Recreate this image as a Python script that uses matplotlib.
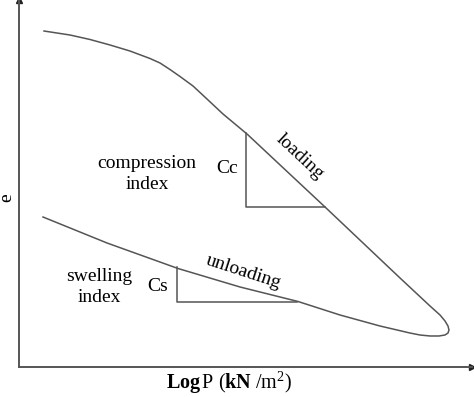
import matplotlib
matplotlib.use("Agg")
import matplotlib.pyplot as plt

plt.rcParams['font.family'] = ['Liberation Serif', 'DejaVu Serif']
plt.rcParams['mathtext.fontset'] = 'custom'
plt.rcParams['mathtext.rm'] = 'Liberation Serif'
plt.rcParams['mathtext.bf'] = 'Liberation Serif:bold'
plt.rcParams['mathtext.it'] = 'Liberation Serif:italic'

# Void ratio e versus log P: loading branch, turn-around loop, unloading branch
log_p = [0.552, 1.126, 1.567, 2.009, 2.450, 2.892, 3.113, 3.333, 3.554, 3.841,
         4.150, 4.503, 5.033, 6.755,
         8.411, 9.073, 9.294, 9.404, 9.470, 9.492, 9.470, 9.404, 9.272, 9.073,
         8.852, 8.631, 7.969, 7.086, 6.159, 4.879, 3.510, 1.943, 0.530]
void_ratio = [9.155, 9.046, 8.924, 8.774, 8.610, 8.406, 8.283, 8.106, 7.916, 7.657,
              7.302, 6.894, 6.349, 4.360,
              2.425, 1.662, 1.417, 1.254, 1.117, 1.008, 0.926, 0.872, 0.845, 0.845,
              0.872, 0.926, 1.117, 1.417, 1.785, 2.180, 2.684, 3.379, 4.087]

# Slope triangles (compression index Cc, swelling index Cs)
cc_x = [5.011, 5.011, 6.755]
cc_y = [6.376, 4.360, 4.360]
cs_x = [3.488, 3.488, 6.137]
cs_y = [2.725, 1.771, 1.771]

line_col = '#555555'

fig = plt.figure(figsize=(4.74, 3.97), dpi=100)
ax = fig.add_axes([19 / 474, 30 / 397, 453 / 474, 367 / 397])
ax.set_xlim(0, 10)
ax.set_ylim(0, 10)
ax.set_xticks([])
ax.set_yticks([])
for s in ['top', 'right']:
    ax.spines[s].set_visible(False)
for s in ['left', 'bottom']:
    ax.spines[s].set_color(line_col)
    ax.spines[s].set_linewidth(1.4)
ax.set_facecolor('none')

# arrowheads on axes
ax.plot(1, 0, marker='>', color='#222222', markersize=5, transform=ax.transAxes, clip_on=False)
ax.plot(0, 1, marker='^', color='#222222', markersize=5, transform=ax.transAxes, clip_on=False)

ax.plot(log_p, void_ratio, color=line_col, lw=1.1, solid_joinstyle='round')
ax.plot(cc_x, cc_y, color=line_col, lw=1.1)
ax.plot(cs_x, cs_y, color=line_col, lw=1.1)

fs = 14
ax.text(2.826, 5.26, 'compression\nindex', ha='center', va='center', fontsize=fs, linespacing=1.35)
ax.text(4.592, 5.40, 'Cc', ha='center', va='center', fontsize=fs)
ax.text(6.20, 5.72, 'loading', ha='center', va='center', fontsize=fs, rotation=-43)
ax.text(4.945, 2.60, 'unloading', ha='center', va='center', fontsize=fs, rotation=-18)
ax.text(1.766, 2.18, 'swelling\nindex', ha='center', va='center', fontsize=fs, linespacing=1.35)
ax.text(3.068, 2.18, 'Cs', ha='center', va='center', fontsize=fs)

fig.text(7 / 474, 1 - 198 / 397, 'e', rotation=90, ha='center', va='center', fontsize=fs)
fig.text(229 / 474, 1 - 383 / 397, r'$\mathbf{Log}\,\mathrm{P}\ (\mathbf{kN}\ /\mathrm{m}^{2})$',
         ha='center', va='center', fontsize=14.5)

fig.savefig('out.png', dpi=100)
